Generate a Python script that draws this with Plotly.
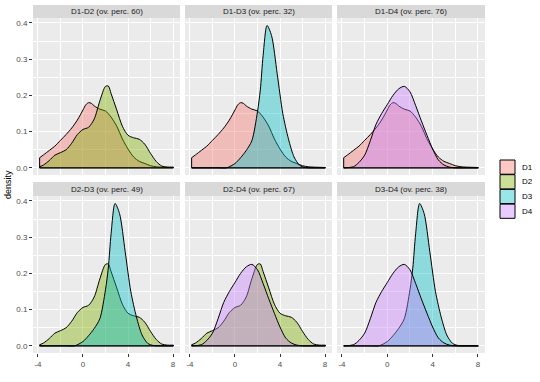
import plotly.graph_objects as go

# ---- data ----
groups = ["D1", "D2", "D3", "D4"]
colors = {"D1": "#F8766D", "D2": "#7CAE00", "D3": "#00BFC4", "D4": "#C77CFF"}

D1_x = [-3.85, -3.5, -3, -2.5, -2, -1.5, -1, -0.5, 0, 0.25, 0.5, 0.75, 1, 1.5, 2, 2.5, 3, 3.5, 4, 4.5, 5, 5.5, 6, 6.5, 7, 8.03]
D1_y = [0.028, 0.036, 0.048, 0.06, 0.076, 0.092, 0.11, 0.132, 0.16, 0.174, 0.18, 0.178, 0.171, 0.162, 0.157, 0.14, 0.115, 0.08, 0.052, 0.03, 0.018, 0.012, 0.006, 0.003, 0.002, 0.001]

D2_x = [-3.85, -3.5, -3, -2.5, -2, -1.5, -1, -0.5, 0, 0.5, 1, 1.5, 2, 2.25, 2.5, 3, 3.5, 4, 4.5, 5, 5.5, 6, 6.5, 7, 7.5, 8.03]
D2_y = [0.003, 0.008, 0.02, 0.035, 0.042, 0.05, 0.068, 0.092, 0.106, 0.112, 0.135, 0.185, 0.225, 0.226, 0.205, 0.16, 0.115, 0.09, 0.083, 0.079, 0.065, 0.04, 0.018, 0.005, 0.002, 0.002]

D3_x = [-3.85, -2.5, -1.5, -0.75, 0, 0.5, 1, 1.5, 2, 2.25, 2.5, 2.85, 3.25, 3.75, 4.25, 4.75, 5.25, 5.75, 6.25, 7, 8.03]
D3_y = [0.0, 0.0, 0.0, 0.0, 0.012, 0.028, 0.048, 0.075, 0.155, 0.215, 0.31, 0.393, 0.365, 0.26, 0.15, 0.08, 0.03, 0.007, 0.001, 0.0, 0.0]

D4_x = [-3.85, -3.0, -2.5, -2, -1.5, -1, -0.5, 0, 0.5, 1, 1.5, 2, 2.5, 3, 3.5, 4, 4.5, 5, 5.5, 6, 7, 8.03]
D4_y = [0.0, 0.003, 0.015, 0.035, 0.075, 0.12, 0.15, 0.175, 0.2, 0.218, 0.225, 0.21, 0.172, 0.13, 0.09, 0.052, 0.022, 0.008, 0.002, 0.0, 0.0, 0.0]

series = {"D1": (D1_x, D1_y), "D2": (D2_x, D2_y), "D3": (D3_x, D3_y), "D4": (D4_x, D4_y)}

pairs = [("D1", "D2"), ("D1", "D3"), ("D1", "D4"), ("D2", "D3"), ("D2", "D4"), ("D3", "D4")]
overlap = [60, 32, 76, 49, 67, 38]

x_ticks = [-4, 0, 4, 8]
y_ticks = [0.0, 0.1, 0.2, 0.3, 0.4]
y_tick_text = ["0.0", "0.1", "0.2", "0.3", "0.4"]

# ---- layout geometry ----
W, H = 540, 382
col_px = [(33, 180), (185, 332), (337, 485)]
row_px = [(18, 175), (196, 353)]      # panel top, bottom
strip_px = [(5, 18), (182, 196)]


def rgba(hexc, a):
    h = hexc.lstrip("#")
    r, g, b = int(h[0:2], 16), int(h[2:4], 16), int(h[4:6], 16)
    return f"rgba({r},{g},{b},{a})"


fig = go.Figure()
layout = dict(
    width=W, height=H, margin=dict(l=0, r=0, t=0, b=0, autoexpand=False),
    paper_bgcolor="white", plot_bgcolor="#EBEBEB",
    showlegend=False, font=dict(family="Liberation Sans, Arial", size=8, color="#4D4D4D"),
)
shapes = []
annotations = []

for i, (a, b) in enumerate(pairs):
    r, c = divmod(i, 3)
    sfx = "" if i == 0 else str(i + 1)
    xa, ya = "x" + sfx, "y" + sfx
    for g in (a, b):
        xs, ys = series[g]
        # filled density curve
        fig.add_trace(go.Scatter(
            x=list(xs), y=list(ys), mode="lines", fill="tozeroy",
            fillcolor=rgba(colors[g], 0.4),
            line=dict(color="black", width=1, shape="spline", smoothing=0.8),
            name=g, xaxis=xa, yaxis=ya, hoverinfo="skip"))
        # polygon edges (ends and baseline)
        fig.add_trace(go.Scatter(
            x=[xs[0], xs[0], xs[-1], xs[-1]], y=[ys[0], 0, 0, ys[-1]],
            mode="lines", line=dict(color="black", width=1),
            xaxis=xa, yaxis=ya, hoverinfo="skip", showlegend=False))
    x0, x1 = col_px[c]
    t, btm = row_px[r]
    layout["xaxis" + sfx] = dict(
        domain=[x0 / W, x1 / W], anchor=ya, range=[-4.44, 8.62], automargin=False,
        tickvals=x_ticks, ticktext=[str(v) for v in x_ticks],
        showticklabels=(r == 1), ticks="outside" if r == 1 else "", ticklen=3,
        tickcolor="#333333", tickfont=dict(size=8, color="#4D4D4D"),
        showgrid=True, gridcolor="white", gridwidth=1, zeroline=False, showline=False,
        minor=dict(dtick=2, showgrid=True, gridcolor="white", gridwidth=0.5),
    )
    layout["yaxis" + sfx] = dict(
        domain=[1 - btm / H, 1 - t / H], anchor=xa, range=[-0.0197, 0.4137], automargin=False,
        tickvals=y_ticks, ticktext=y_tick_text,
        showticklabels=(c == 0), ticks="outside" if c == 0 else "", ticklen=3,
        tickcolor="#333333", tickfont=dict(size=8, color="#4D4D4D"),
        showgrid=True, gridcolor="white", gridwidth=1, zeroline=False, showline=False,
        minor=dict(dtick=0.05, showgrid=True, gridcolor="white", gridwidth=0.5),
    )
    st, sb = strip_px[r]
    shapes.append(dict(type="rect", xref="paper", yref="paper",
                       x0=x0 / W, x1=x1 / W, y0=1 - sb / H, y1=1 - st / H,
                       fillcolor="#D9D9D9", line=dict(width=0), layer="below"))
    annotations.append(dict(text=f"{a}-{b} (ov. perc. {overlap[i]})", xref="paper", yref="paper",
                            x=(x0 + x1) / 2 / W, y=1 - (st + sb) / 2 / H,
                            showarrow=False, font=dict(size=8, color="#1A1A1A"),
                            xanchor="center", yanchor="middle"))

# y-axis title
annotations.append(dict(text="density", xref="paper", yref="paper", x=8 / W, y=1 - 185 / H,
                        textangle=-90, showarrow=False, font=dict(size=9, color="black"),
                        xanchor="center", yanchor="middle"))

# legend (drawn as keys)
key_top = 160
for k, g in enumerate(groups):
    yt = key_top + k * 14.7
    shapes.append(dict(type="rect", xref="paper", yref="paper",
                       x0=500 / W, x1=515 / W, y0=1 - (yt + 14.2) / H, y1=1 - yt / H,
                       fillcolor=rgba(colors[g], 0.4), line=dict(color="black", width=1)))
    annotations.append(dict(text=g, xref="paper", yref="paper", x=520 / W, y=1 - (yt + 7.2) / H,
                            showarrow=False, font=dict(size=8, color="black"),
                            xanchor="left", yanchor="middle"))

layout["shapes"] = shapes
layout["annotations"] = annotations
fig.update_layout(**layout)
fig.write_html("out.html", config={"displayModeBar": False},
               post_script="document.body.style.margin='0px';document.body.style.overflow='hidden';")
